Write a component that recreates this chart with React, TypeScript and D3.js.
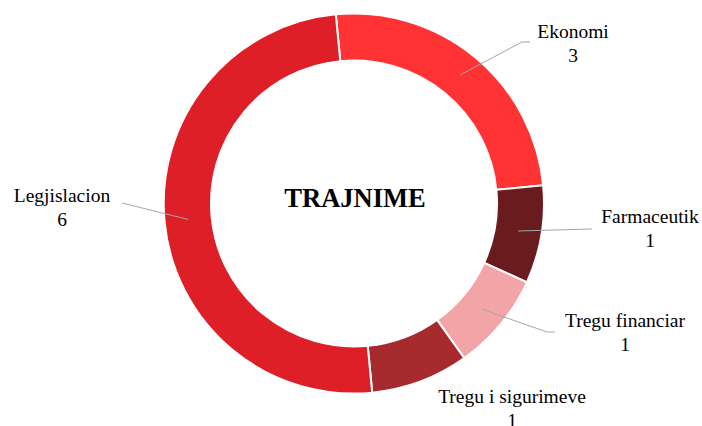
import React from 'react';
import * as d3 from 'd3';
import { useEffect, useRef } from 'react';

const categories = ['Ekonomi', 'Farmaceutik', 'Tregu financiar', 'Tregu i sigurimeve', 'Legjislacion'];
const values = [3, 1, 1, 1, 6];
const colors = ['#FF3234', '#6A1B1E', '#F2A4A6', '#A72A2E', '#DE1F28'];
const centerTitle = 'TRAJNIME';

// label anchor (centre of first text line baseline) and leader line elbow, per slice
const labelLayout = [
  { x: 573, y: 38, elbow: [522, 42], end: [530, 42] },
  { x: 650, y: 223, elbow: [592, 229], end: [592, 229] },
  { x: 625, y: 327, elbow: [547, 332], end: [555, 332] },
  { x: 512, y: 403, elbow: null, end: null },
  { x: 62, y: 202, elbow: [122, 203], end: [122, 203] },
];

const serif = 'Liberation Serif, Times New Roman, serif';

const App = () => {
  const ref = useRef<SVGSVGElement | null>(null);
  const width = 702;
  const height = 426;

  useEffect(() => {
    const svg = d3.select(ref.current);
    svg.selectAll('*').remove();

    const cx = 354;
    const cy = 203.5;
    const outer = 190;
    const inner = 143;
    const rot = (-5.5 * Math.PI) / 180;

    const pie = d3.pie<number>().sort(null).startAngle(rot).endAngle(rot + Math.PI * 2);
    const arcs = pie(values);
    const arc = d3.arc<d3.PieArcDatum<number>>().innerRadius(inner).outerRadius(outer);

    const g = svg.append('g').attr('transform', `translate(${cx},${cy})`);

    g.selectAll('path')
      .data(arcs)
      .enter()
      .append('path')
      .attr('d', arc)
      .attr('fill', (d, i) => colors[i])
      .attr('stroke', '#fff')
      .attr('stroke-width', 2);

    // leader lines
    arcs.forEach((d, i) => {
      const lay = labelLayout[i];
      if (!lay.elbow) return;
      const [px, py] = arc.centroid(d);
      const pts: [number, number][] = [
        [px + cx, py + cy],
        lay.elbow as [number, number],
        lay.end as [number, number],
      ];
      svg.append('path')
        .attr('d', d3.line()(pts))
        .attr('fill', 'none')
        .attr('stroke', '#a6a6a6')
        .attr('stroke-width', 1);
    });

    categories.forEach((c, i) => {
      const lay = labelLayout[i];
      const t = svg.append('text')
        .attr('text-anchor', 'middle')
        .attr('font-family', serif)
        .attr('font-size', 19.5)
        .attr('fill', '#000');
      t.append('tspan').attr('x', lay.x).attr('y', lay.y).text(c);
      t.append('tspan').attr('x', lay.x).attr('y', lay.y + 24).text(String(values[i]));
    });

    svg.append('text')
      .attr('x', cx + 1)
      .attr('y', 207)
      .attr('text-anchor', 'middle')
      .attr('font-family', serif)
      .attr('font-size', 26.5)
      .attr('font-weight', 'bold')
      .attr('fill', '#000')
      .text(centerTitle);
  }, []);

  return (
    <svg ref={ref} width={width} height={height}
      style={{ position: 'absolute', left: 0, top: 0, background: '#fff' }} />
  );
};

export default App;
